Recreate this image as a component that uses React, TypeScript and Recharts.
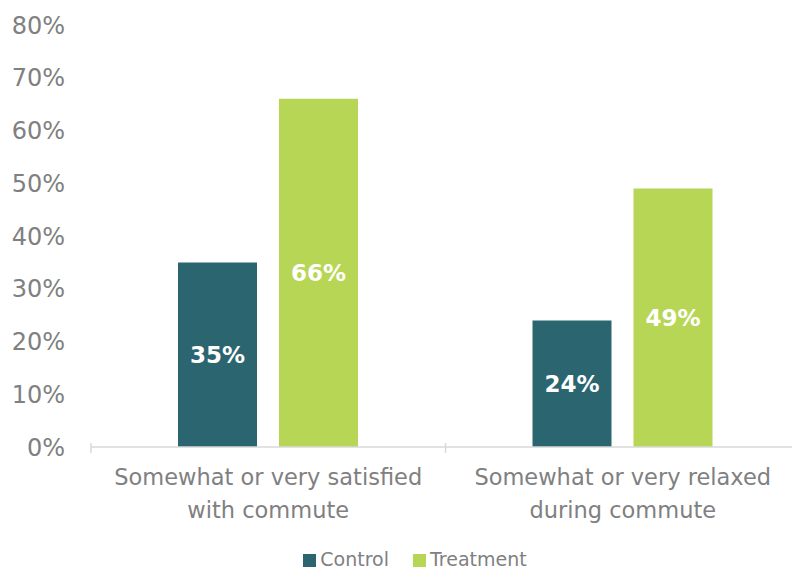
import { Bar, BarChart, XAxis, YAxis, Legend, LabelList } from "recharts"

const categories = ["Somewhat or very satisfied|with commute", "Somewhat or very relaxed|during commute"]
const control = [35, 24]
const treatment = [66, 49]
const yTicks = [0, 10, 20, 30, 40, 50, 60, 70, 80]

const data = categories.map((name, i) => ({
  name,
  control: control[i],
  treatment: treatment[i],
}))

const FONT = "'DejaVu Sans', sans-serif"
const GREY = "#808080"

function CategoryTick(props: any) {
  const { x, y, payload } = props
  const lines = String(payload.value).split("|")
  const half = payload.offset ?? 177
  return (
    <g>
      <line x1={x - half} x2={x - half} y1={y - 12} y2={y - 2} stroke="#d9d9d9" strokeWidth={1.5} />
      {lines.map((line: string, i: number) => (
        <text
          key={i}
          x={x}
          y={y + 30 + i * 33}
          textAnchor="middle"
          fill={GREY}
          fontSize={22.5}
          fontFamily={FONT}
        >
          {line}
        </text>
      ))}
    </g>
  )
}

export default function App() {
  return (
    <div style={{ position: "absolute", left: 0, top: 0, width: 792, height: 570, overflow: "hidden" }}>
      <BarChart
        width={800}
        height={570}
        data={data}
        margin={{ top: 25, right: 0, left: 0, bottom: 10 }}
        barGap={22}
        barSize={79}
      >
        <XAxis
          dataKey="name"
          tick={<CategoryTick />}
          tickLine={false}
          axisLine={{ stroke: "#d9d9d9", strokeWidth: 1.5 }}
          height={91}
          interval={0}
        />
        <YAxis
          domain={[0, 80]}
          ticks={yTicks}
          tickFormatter={(v) => `${v}%`}
          width={91}
          axisLine={false}
          tickLine={false}
          tickMargin={20}
          tick={{ fill: GREY, fontSize: 24, fontFamily: FONT }}
        />
        <Legend
          verticalAlign="bottom"
          iconType="square"
          iconSize={13}
          wrapperStyle={{ fontFamily: FONT, fontSize: 19, color: GREY, bottom: 0, left: 27 }}
          formatter={(value) => <span style={{ color: GREY, marginRight: 14 }}>{value}</span>}
        />
        <Bar dataKey="control" name="Control" fill="#2b6670" isAnimationActive={false}>
          <LabelList
            dataKey="control"
            position="center"
            formatter={(v: any) => `${v}%`}
            fill="#ffffff"
            fontSize={23}
            fontWeight="bold"
            fontFamily={FONT}
          />
        </Bar>
        <Bar dataKey="treatment" name="Treatment" fill="#b8d656" isAnimationActive={false}>
          <LabelList
            dataKey="treatment"
            position="center"
            formatter={(v: any) => `${v}%`}
            fill="#ffffff"
            fontSize={23}
            fontWeight="bold"
            fontFamily={FONT}
          />
        </Bar>
      </BarChart>
    </div>
  )
}
